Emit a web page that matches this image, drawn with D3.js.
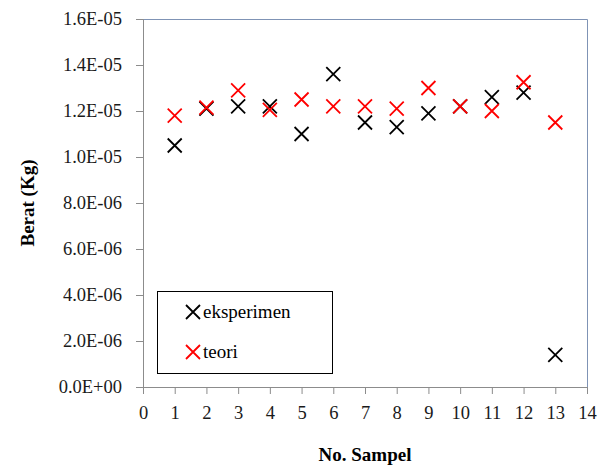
<!DOCTYPE html>
<html>
<head>
<meta charset="utf-8">
<script src="https://cdn.jsdelivr.net/npm/d3@7"></script>
<style>
  body { margin: 0; background: #fff; }
  text { font-family: "Times New Roman", Tinos, "Liberation Serif", "DejaVu Serif", serif; }
</style>
</head>
<body>
<script>
// sample numbers and the two series
var samples = [1, 2, 3, 4, 5, 6, 7, 8, 9, 10, 11, 12, 13];
var eksperimen = [1.05e-5, 1.21e-5, 1.22e-5, 1.22e-5, 1.10e-5, 1.36e-5, 1.15e-5,
                  1.13e-5, 1.19e-5, 1.22e-5, 1.26e-5, 1.28e-5, 1.4e-6];
var teori = [1.18e-5, 1.215e-5, 1.29e-5, 1.205e-5, 1.25e-5, 1.22e-5, 1.22e-5,
             1.21e-5, 1.30e-5, 1.22e-5, 1.20e-5, 1.325e-5, 1.15e-5];
var xTicks = [0, 1, 2, 3, 4, 5, 6, 7, 8, 9, 10, 11, 12, 13, 14];
var yTicks = [0, 2e-6, 4e-6, 6e-6, 8e-6, 1e-5, 1.2e-5, 1.4e-5, 1.6e-5];

var FONT = '"Times New Roman", Tinos, "Liberation Serif", "DejaVu Serif", serif';
var W = 608, H = 468;
var margin = {top: 19, right: 21, bottom: 81, left: 143};
var width = W - margin.left - margin.right,
    height = H - margin.top - margin.bottom;

var svg = d3.select('body').append('svg').attr('width', W).attr('height', H);
var main = svg.append('g')
    .attr('transform', 'translate(' + margin.left + ',' + margin.top + ')');

var xscale = d3.scaleLinear().domain([0, 14]).range([0, width]);
var yscale = d3.scaleLinear().domain([0, 1.6e-5]).range([height, 0]);

// format like excel: 1.6E-05
function sci(v) {
    if (v === 0) return '0.0E+00';
    var e = Math.floor(Math.log10(v) + 1e-9);
    var m = v / Math.pow(10, e);
    var es = Math.abs(e) < 10 ? '0' + Math.abs(e) : String(Math.abs(e));
    return m.toFixed(1) + 'E' + (e < 0 ? '-' : '+') + es;
}

// top and right border of the plot area
main.append('path')
    .attr('d', 'M0,0.5H' + (width + 0.5) + 'V' + height)
    .attr('fill', 'none')
    .attr('stroke', '#7f93b5')
    .attr('stroke-width', 1);

// y axis
var yAxis = d3.axisLeft(yscale).tickValues(yTicks).tickFormat(sci).tickSize(7).tickPadding(14);
var gy = main.append('g').call(yAxis).attr('font-family', FONT).attr('font-size', 18.5);
gy.select('.domain').attr('stroke', '#8c8c8c');
gy.selectAll('.tick line').attr('stroke', '#8c8c8c');
gy.selectAll('.tick text').attr('fill', '#1a1a1a');

// x axis
var xAxis = d3.axisBottom(xscale).tickValues(xTicks).tickFormat(d3.format('d')).tickSize(7).tickPadding(12);
var gx = main.append('g').attr('transform', 'translate(0,' + height + ')').call(xAxis)
    .attr('font-family', FONT).attr('font-size', 18.5);
gx.select('.domain').attr('stroke', '#8c8c8c');
gx.selectAll('.tick line').attr('stroke', '#8c8c8c');
gx.selectAll('.tick text').attr('fill', '#1a1a1a');

// axis titles
svg.append('text')
    .attr('transform', 'translate(34,' + (margin.top + height / 2) + ') rotate(-90)')
    .attr('text-anchor', 'middle')
    .style('font-size', '19px')
    .style('font-weight', 'bold')
    .text('Berat (Kg)');

svg.append('text')
    .attr('x', margin.left + width / 2)
    .attr('y', 461)
    .attr('text-anchor', 'middle')
    .style('font-size', '19px')
    .style('font-weight', 'bold')
    .text('No. Sampel');

// x marker path
var s = 7;
function cross(x, y) {
    return 'M' + (x - s) + ',' + (y - s) + 'L' + (x + s) + ',' + (y + s) +
           'M' + (x - s) + ',' + (y + s) + 'L' + (x + s) + ',' + (y - s);
}

var g = main.append('g');

g.selectAll('.exp')
    .data(eksperimen)
    .enter().append('path')
    .attr('class', 'exp')
    .attr('d', function (d, i) { return cross(xscale(samples[i]), yscale(d)); })
    .attr('stroke', '#000')
    .attr('stroke-width', 1.8)
    .attr('fill', 'none');

g.selectAll('.teo')
    .data(teori)
    .enter().append('path')
    .attr('class', 'teo')
    .attr('d', function (d, i) { return cross(xscale(samples[i]), yscale(d)); })
    .attr('stroke', '#ff0000')
    .attr('stroke-width', 1.8)
    .attr('fill', 'none');

// legend
var leg = svg.append('g').attr('transform', 'translate(157,291)');
leg.append('rect')
    .attr('x', 0.5).attr('y', 0.5)
    .attr('width', 175).attr('height', 82)
    .attr('fill', '#fff')
    .attr('stroke', '#000')
    .attr('stroke-width', 1);

var legItems = [{name: 'eksperimen', color: '#000'}, {name: 'teori', color: '#ff0000'}];
legItems.forEach(function (it, i) {
    var cy = 21 + i * 40;
    leg.append('path')
        .attr('d', cross(36, cy))
        .attr('stroke', it.color)
        .attr('stroke-width', 1.8)
        .attr('fill', 'none');
    leg.append('text')
        .attr('x', 46)
        .attr('y', cy + 6)
        .style('font-size', '19px')
        .text(it.name);
});
</script>
</body>
</html>
